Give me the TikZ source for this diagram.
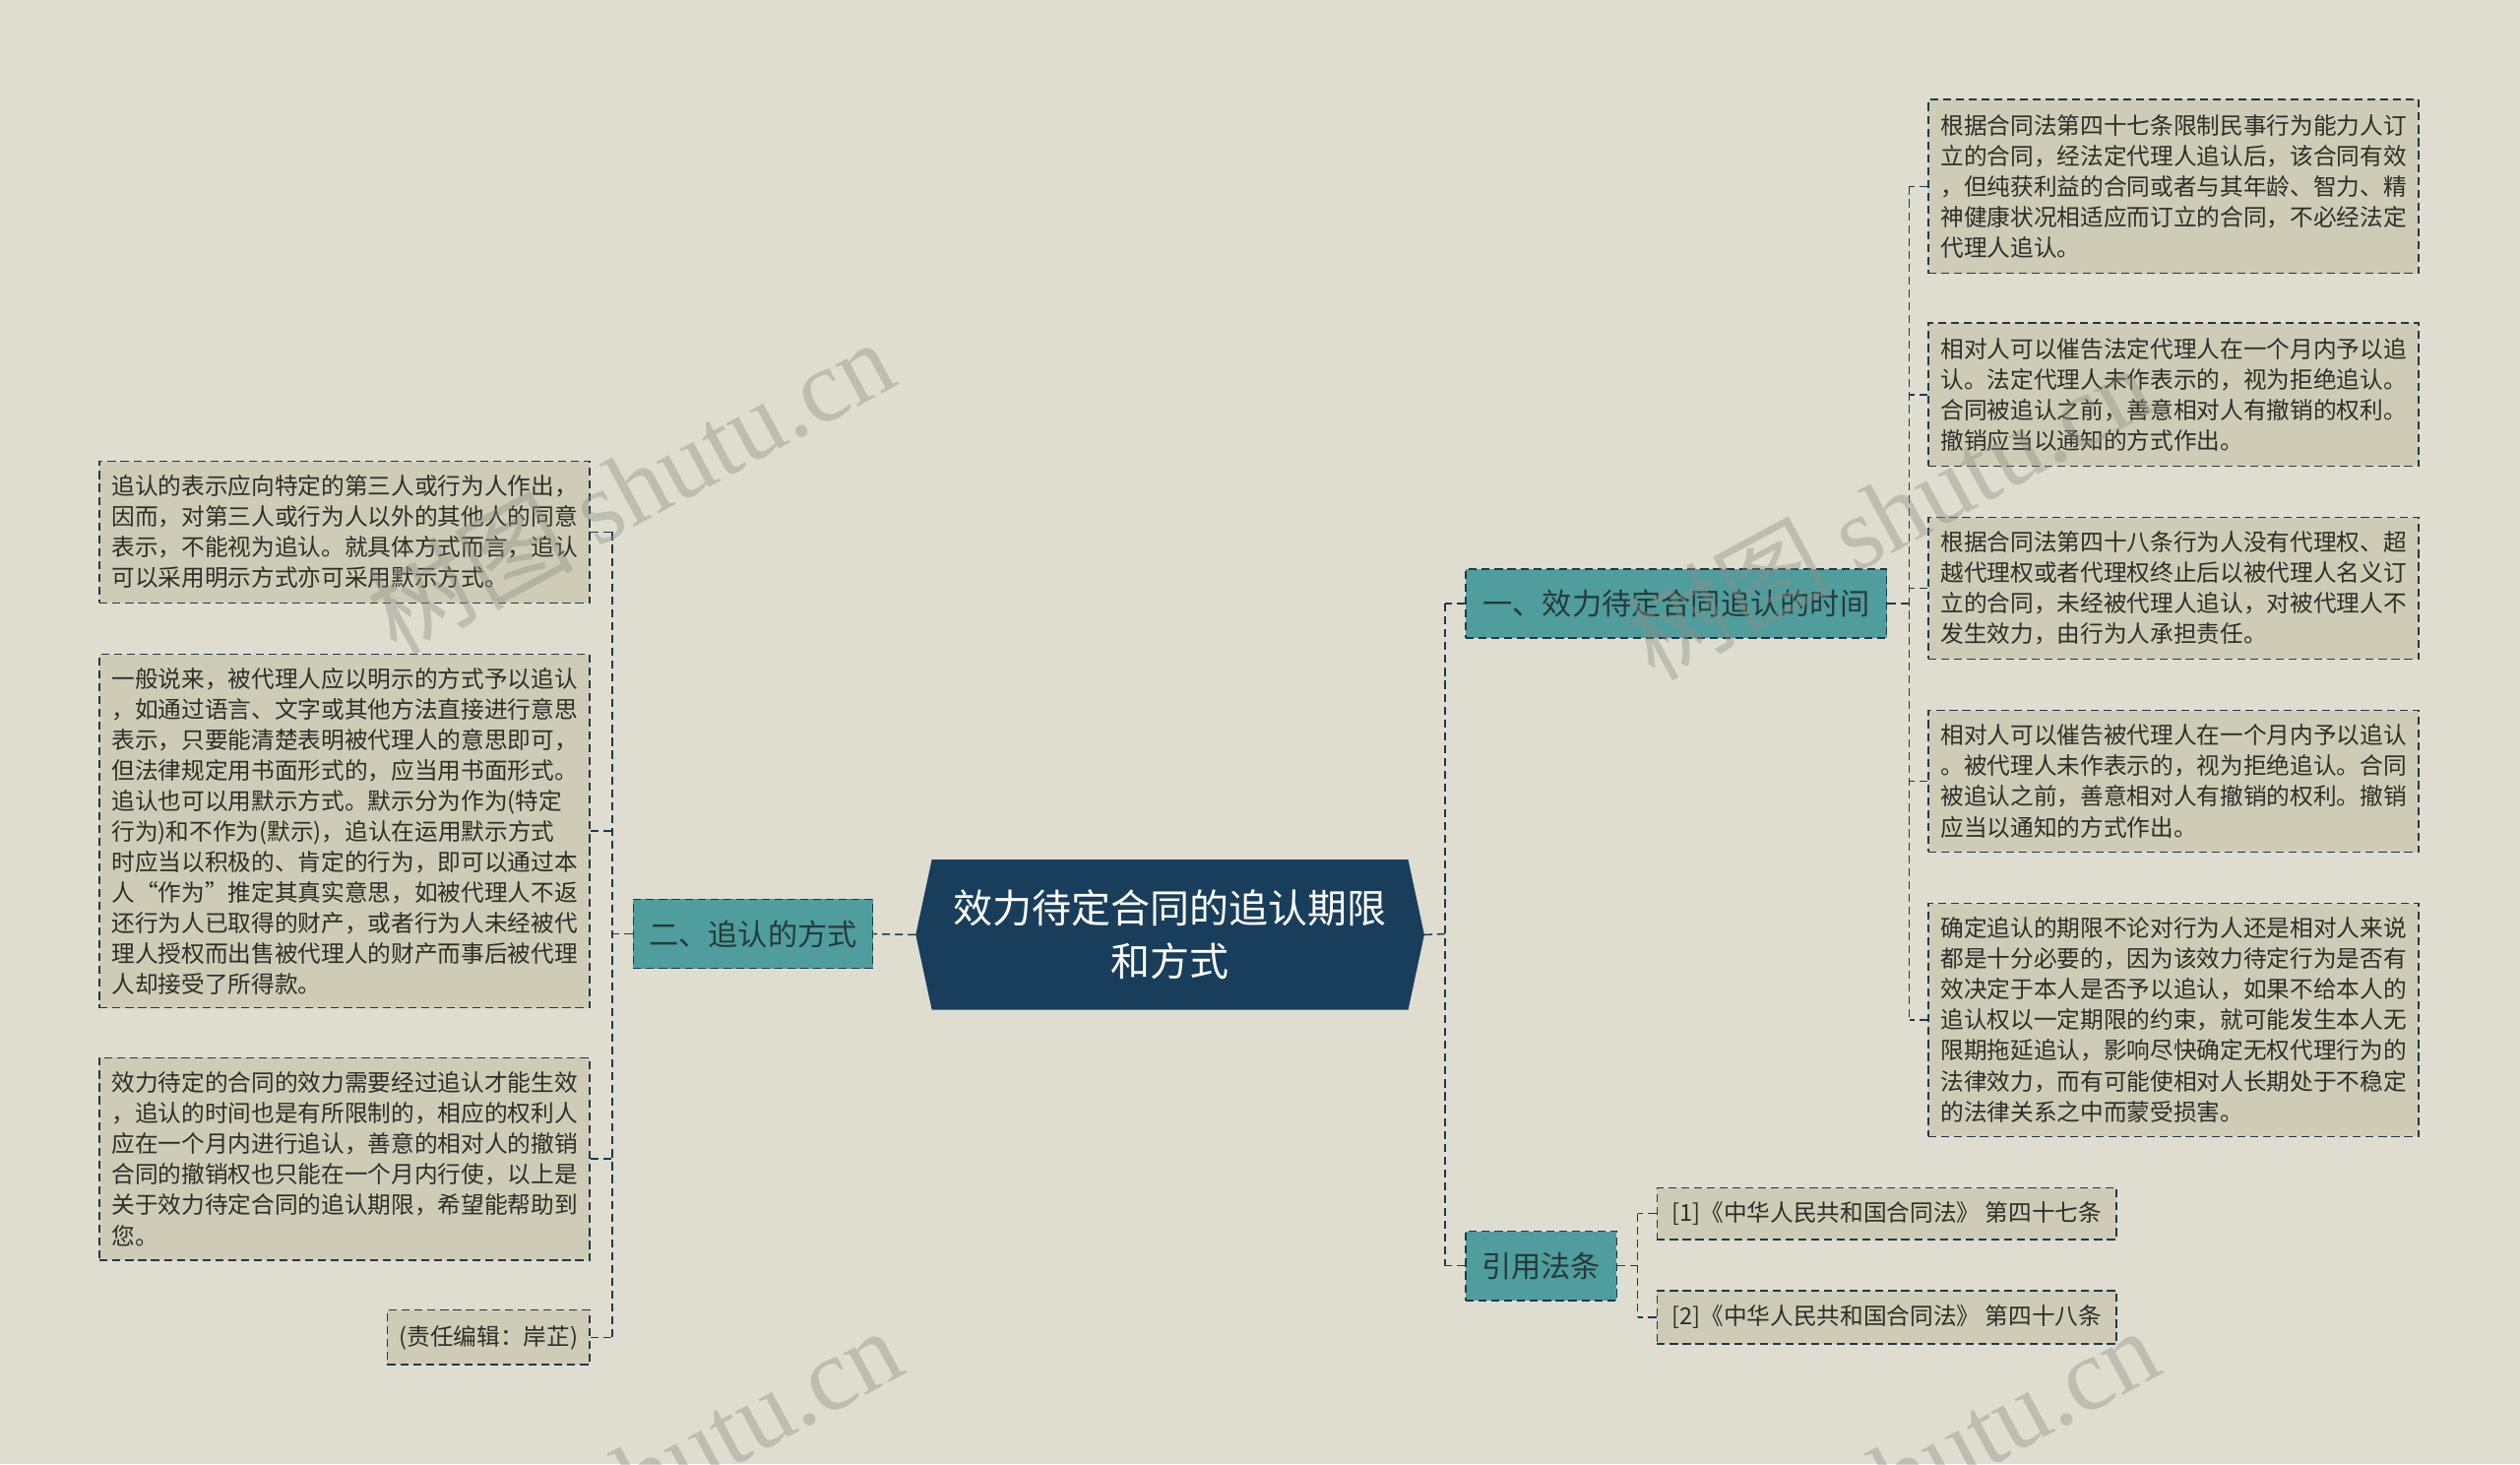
\documentclass[tikz,border=0pt]{standalone}
\usepackage{fontspec}
\setmainfont{Noto Sans CJK SC}
\newfontfamily\wmlatin{Liberation Serif}
\usetikzlibrary{backgrounds}
\definecolor{bgc}{HTML}{DEDDD0}
\definecolor{boxc}{HTML}{CECCB6}
\definecolor{tealc}{HTML}{4F9D9C}
\definecolor{navyc}{HTML}{183E5C}
\definecolor{bordc}{HTML}{20384C}
\definecolor{txtc}{HTML}{2E2E2A}
\definecolor{tealtxt}{HTML}{263A3A}
\definecolor{wmc}{HTML}{8E8E86}
\begin{document}
\begin{tikzpicture}[x=1pt,y=-1pt,
  leaf/.style={draw=bordc, line width=0.9pt, dash pattern=on 5pt off 3pt, fill=boxc,
    font=\fontsize{14.5}{19}\selectfont, text=txtc, align=left, inner sep=0pt,
    minimum width=305},
  branch/.style={draw=bordc, line width=0.9pt, dash pattern=on 5pt off 3pt, fill=tealc,
    font=\fontsize{18.5}{22}\selectfont, text=tealtxt, inner sep=0pt, minimum height=43},
  conn/.style={draw=bordc, line width=0.9pt, dash pattern=on 5pt off 3pt},
  wm/.style={text=wmc, opacity=0.4, rotate=28.4, font=\fontsize{64}{70}\selectfont, inner sep=0pt}
]
\useasboundingbox (0,0) rectangle (1568,911);
\begin{pgfonlayer}{background}
\fill[bgc] (0,0) rectangle (1568,911);
\end{pgfonlayer}

% central node
\node[font=\fontsize{24.5}{33}\selectfont, text=white, align=center, minimum width=316, minimum height=93, inner sep=0pt] (root) at (728,581.5) {效力待定合同的追认期限\\和方式};
\begin{pgfonlayer}{background}
\fill[navyc] ([xshift=10pt]root.north west) -- (root.west) -- ([xshift=10pt]root.south west)
  -- ([xshift=-10pt]root.south east) -- (root.east) -- ([xshift=-10pt]root.north east) -- cycle;
\end{pgfonlayer}

% left branch
\node[branch, minimum width=149] (b2) at (468.5,581) {二、追认的方式};
\node[leaf, minimum height=88] (L1) at (214.5,331) {追认的表示应向特定的第三人或行为人作出，\\因而，对第三人或行为人以外的其他人的同意\\表示，不能视为追认。就具体方式而言，追认\\可以采用明示方式亦可采用默示方式。};
\node[leaf, minimum height=220] (L2) at (214.5,517) {一般说来，被代理人应以明示的方式予以追认\\，如通过语言、文字或其他方法直接进行意思\\表示，只要能清楚表明被代理人的意思即可，\\但法律规定用书面形式的，应当用书面形式。\\追认也可以用默示方式。默示分为作为(特定\\行为)和不作为(默示)，追认在运用默示方式\\时应当以积极的、肯定的行为，即可以通过本\\人“作为”推定其真实意思，如被代理人不返\\还行为人已取得的财产，或者行为人未经被代\\理人授权而出售被代理人的财产而事后被代理\\人却接受了所得款。};
\node[leaf, minimum height=126] (L3) at (214.5,721) {效力待定的合同的效力需要经过追认才能生效\\，追认的时间也是有所限制的，相应的权利人\\应在一个月内进行追认，善意的相对人的撤销\\合同的撤销权也只能在一个月内行使，以上是\\关于效力待定合同的追认期限，希望能帮助到\\您。};
\node[leaf, minimum width=126, minimum height=34, align=center] (L4) at (304,832) {(责任编辑：岸芷)};

\coordinate (busL) at (381,581);
\draw[conn] (root.west) -- (b2.east);
\draw[conn] (b2.west) -- (busL);
\draw[conn] (busL |- L1.east) -- (busL |- L4.east);
\foreach \n in {L1,L2,L3,L4} \draw[conn] (\n.east) -- (busL |- \n.east);

% right branches
\node[branch, minimum width=262] (b1) at (1043,375.5) {一、效力待定合同追认的时间};
\node[branch, minimum width=94] (b3) at (959,787.5) {引用法条};

\node[leaf, minimum height=108] (R1) at (1352.5,116) {根据合同法第四十七条限制民事行为能力人订\\立的合同，经法定代理人追认后，该合同有效\\，但纯获利益的合同或者与其年龄、智力、精\\神健康状况相适应而订立的合同，不必经法定\\代理人追认。};
\node[leaf, minimum height=89] (R2) at (1352.5,245.5) {相对人可以催告法定代理人在一个月内予以追\\认。法定代理人未作表示的，视为拒绝追认。\\合同被追认之前，善意相对人有撤销的权利。\\撤销应当以通知的方式作出。};
\node[leaf, minimum height=88] (R3) at (1352.5,366) {根据合同法第四十八条行为人没有代理权、超\\越代理权或者代理权终止后以被代理人名义订\\立的合同，未经被代理人追认，对被代理人不\\发生效力，由行为人承担责任。};
\node[leaf, minimum height=88] (R4) at (1352.5,486) {相对人可以催告被代理人在一个月内予以追认\\。被代理人未作表示的，视为拒绝追认。合同\\被追认之前，善意相对人有撤销的权利。撤销\\应当以通知的方式作出。};
\node[leaf, minimum height=145] (R5) at (1352.5,634.5) {确定追认的期限不论对行为人还是相对人来说\\都是十分必要的，因为该效力待定行为是否有\\效决定于本人是否予以追认，如果不给本人的\\追认权以一定期限的约束，就可能发生本人无\\限期拖延追认，影响尽快确定无权代理行为的\\法律效力，而有可能使相对人长期处于不稳定\\的法律关系之中而蒙受损害。};
\node[leaf, minimum width=286, minimum height=32, align=center] (C1) at (1174,755) {[1]《中华人民共和国合同法》 第四十七条};
\node[leaf, minimum width=286, minimum height=33, align=center] (C2) at (1174,819.5) {[2]《中华人民共和国合同法》 第四十八条};

\coordinate (busR) at (899,581);
\draw[conn] (root.east) -- (busR);
\draw[conn] (busR |- b1.west) -- (busR |- b3.west);
\foreach \n in {b1,b3} \draw[conn] (\n.west) -- (busR |- \n.west);

\coordinate (busR1) at (1188,376);
\draw[conn] (b1.east) -- (busR1 |- b1.east);
\draw[conn] (busR1 |- R1.west) -- (busR1 |- R5.west);
\foreach \n in {R1,R2,R3,R4,R5} \draw[conn] (\n.west) -- (busR1 |- \n.west);

\coordinate (busR3) at (1019,787);
\draw[conn] (b3.east) -- (busR3 |- b3.east);
\draw[conn] (busR3 |- C1.west) -- (busR3 |- C2.west);
\foreach \n in {C1,C2} \draw[conn] (\n.west) -- (busR3 |- \n.west);

% watermarks (on top, semi-transparent)
\node[wm] (wm1) at (392,302) {树图 {\wmlatin shutu.cn}};
\node[wm] (wm2) at (1175,318) {树图 {\wmlatin shutu.cn}};
\node[wm] (wm3) at (397,917) {树图 {\wmlatin shutu.cn}};
\node[wm] (wm4) at (1179,917) {树图 {\wmlatin shutu.cn}};
\end{tikzpicture}
\end{document}
